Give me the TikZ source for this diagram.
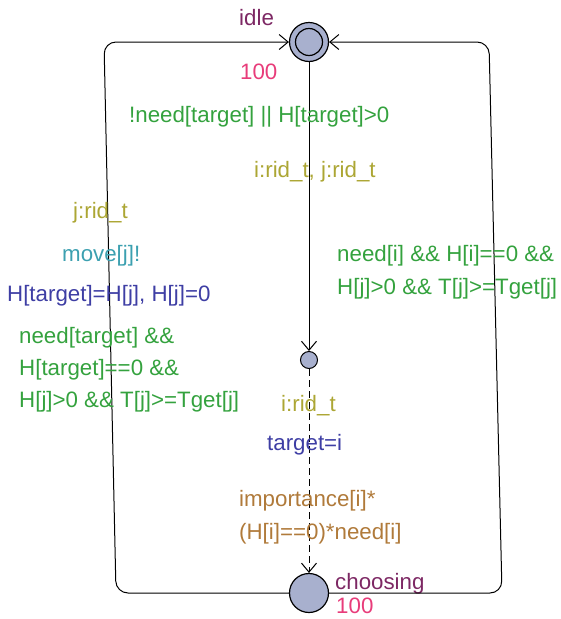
\documentclass[tikz,border=0pt]{standalone}
\usepackage{fontspec}
\setmainfont{Liberation Sans}
\usetikzlibrary{arrows.meta}
\definecolor{locfill}{RGB}{168,176,206}
\definecolor{locname}{RGB}{125,40,100}
\definecolor{invcol}{RGB}{232,60,122}
\definecolor{guardcol}{RGB}{52,162,62}
\definecolor{selcol}{RGB}{172,166,52}
\definecolor{synccol}{RGB}{60,160,176}
\definecolor{updcol}{RGB}{62,62,164}
\definecolor{probcol}{RGB}{176,122,58}
\begin{document}
\begin{tikzpicture}[x=1pt,y=-1pt,
    every node/.style={font=\fontsize{22.3}{26}\selectfont,inner sep=0pt},
    state/.style={circle,draw,line width=1.2pt,fill=locfill,minimum size=39pt},
    committed/.style={circle,draw,line width=1pt,fill=locfill,minimum size=17pt},
    edge/.style={line width=1pt,-{Straight Barb[length=9pt,width=15pt]}},
    lbl/.style={anchor=west},
    locnm/.style={lbl,text=locname},
    invlabel/.style={lbl,text=invcol},
    guard/.style={lbl,text=guardcol},
    sel/.style={lbl,text=selcol},
    sync/.style={lbl,text=synccol},
    update/.style={lbl,text=updcol},
    prob/.style={lbl,text=probcol}]
    \useasboundingbox (0,0) rectangle (561,619);
    % locations
    \node[state] (idle) at (309,42) {};
    \draw[line width=1.2pt] (idle.center) circle (13.5pt);
    \node[state] (choosing) at (309,593) {};
    \node[committed] (branch) at (309,360) {};
    \node[locnm] (idlename) at (239,18) {idle};
    \node[invlabel] (idleinv) at (240,72) {100};
    \node[locnm] (choosingname) at (335,584) {choosing};
    \node[invlabel] (choosinginv) at (336,606) {100};
    % corners of the two loops
    \coordinate (lb) at (116,593); \coordinate (lt) at (104,42);
    \coordinate (rb) at (502,593); \coordinate (rt) at (489,42);
    % edges
    \draw[edge] (idle) -- (branch);
    \draw[edge,dash pattern=on 7pt off 4pt] (branch) -- (choosing);
    \draw[edge,rounded corners=12pt] (choosing) -- (lb) -- (lt) -- (idle);
    \draw[edge,rounded corners=12pt] (choosing) -- (rb) -- (rt) -- (idle);
    % labels of idle -> branch
    \node[guard] (g1) at (129,117) {!need[target] || H[target]>0};
    \node[sel] (s1) at (254,172) {i:rid\_t, j:rid\_t};
    % labels of branch -> choosing
    \node[sel] (s2) at (281,406) {i:rid\_t};
    \node[update] (u2) at (267,445) {target=i};
    \node[prob] (p2) at (239,501) {importance[i]*};
    \node[prob] (p2b) at (239,534) {(H[i]==0)*need[i]};
    % labels of left loop
    \node[sel] (s3) at (73,213) {j:rid\_t};
    \node[sync] (y3) at (62,256) {move[j]!};
    \node[update] (u3) at (7,296) {H[target]=H[j], H[j]=0};
    \node[guard] (g3) at (19,338) {need[target] \&\&};
    \node[guard] (g3b) at (19,370) {H[target]==0 \&\&};
    \node[guard] (g3c) at (19,402) {H[j]>0 \&\& T[j]>=Tget[j]};
    % labels of right loop
    \node[guard] (g4) at (337,256) {need[i] \&\& H[i]==0 \&\&};
    \node[guard] (g4b) at (337,289) {H[j]>0 \&\& T[j]>=Tget[j]};
\end{tikzpicture}
\end{document}
